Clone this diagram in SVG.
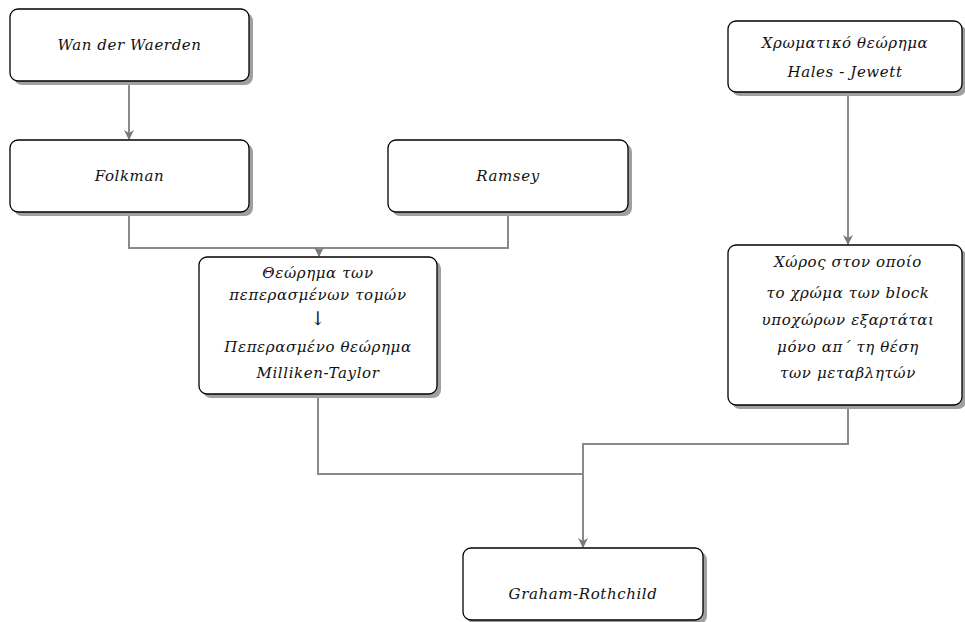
<svg xmlns="http://www.w3.org/2000/svg" width="965" height="622" viewBox="0 0 965 622">
<style>
.sh{fill:#a0a0a0}
.bx{fill:#fff;stroke:#000;stroke-width:1.3}
.t{font-family:"DejaVu Serif","Liberation Serif",serif;font-style:italic;font-size:15px;fill:#111;text-anchor:middle;letter-spacing:0.6px}
.ar{font-family:"DejaVu Serif",serif;font-size:19px;fill:#222;text-anchor:middle}
.c{fill:none;stroke:#8a8a8a;stroke-width:2}
</style>
<defs>
<marker id="ah" markerWidth="10" markerHeight="10" refX="9" refY="5" orient="auto" markerUnits="userSpaceOnUse">
<path d="M0,0 L10,5 L0,10 L3,5 Z" fill="#7a7a7a"/>
</marker>
</defs>
<g id="connectors">
<path class="c" d="M129,82 V139" marker-end="url(#ah)"/>
<path class="c" d="M129,212 V248 H508 V212"/>
<path class="c" d="M319,248 V256" marker-end="url(#ah)"/>
<path class="c" d="M848,92 V244" marker-end="url(#ah)"/>
<path class="c" d="M318,394 V474 H583"/>
<path class="c" d="M848,405 V444 H583 V547" marker-end="url(#ah)"/>
</g>
<g id="wan">
<rect class="sh" x="14" y="13" width="239" height="72" rx="8"/>
<rect class="bx" x="10" y="9" width="239" height="72" rx="8"/>
<text class="t" x="129.5" y="50">Wan der Waerden</text>
</g>
<g id="folkman">
<rect class="sh" x="14" y="144" width="239" height="72" rx="8"/>
<rect class="bx" x="10" y="140" width="239" height="72" rx="8"/>
<text class="t" x="129.5" y="181">Folkman</text>
</g>
<g id="ramsey">
<rect class="sh" x="392" y="144" width="240" height="72" rx="8"/>
<rect class="bx" x="388" y="140" width="240" height="72" rx="8"/>
<text class="t" x="508" y="181">Ramsey</text>
</g>
<g id="peperasmeno">
<rect class="sh" x="203" y="261" width="238" height="137" rx="8"/>
<rect class="bx" x="199" y="257" width="238" height="137" rx="8"/>
<text class="t" x="318" y="278">Θεώρημα των</text>
<text class="t" x="318" y="300">πεπερασμένων τομών</text>
<text class="ar" x="318" y="325">↓</text>
<text class="t" x="318" y="352">Πεπερασμένο θεώρημα</text>
<text class="t" x="318" y="378">Milliken-Taylor</text>
</g>
<g id="hales">
<rect class="sh" x="732" y="25" width="234" height="71" rx="8"/>
<rect class="bx" x="728" y="21" width="234" height="71" rx="8"/>
<text class="t" x="845" y="48">Χρωματικό θεώρημα</text>
<text class="t" x="845" y="77">Hales - Jewett</text>
</g>
<g id="xoros">
<rect class="sh" x="732" y="249" width="234" height="160" rx="8"/>
<rect class="bx" x="728" y="245" width="234" height="160" rx="8"/>
<text class="t" x="848" y="267">Χώρος στον οποίο</text>
<text class="t" x="848" y="298">το χρώμα των block</text>
<text class="t" x="848" y="325">υποχώρων εξαρτάται</text>
<text class="t" x="848" y="352">μόνο απ΄ τη θέση</text>
<text class="t" x="848" y="378">των μεταβλητών</text>
</g>
<g id="graham">
<rect class="sh" x="467" y="552" width="240" height="72" rx="8"/>
<rect class="bx" x="463" y="548" width="240" height="72" rx="8"/>
<text class="t" x="583" y="599">Graham-Rothchild</text>
</g>
</svg>
